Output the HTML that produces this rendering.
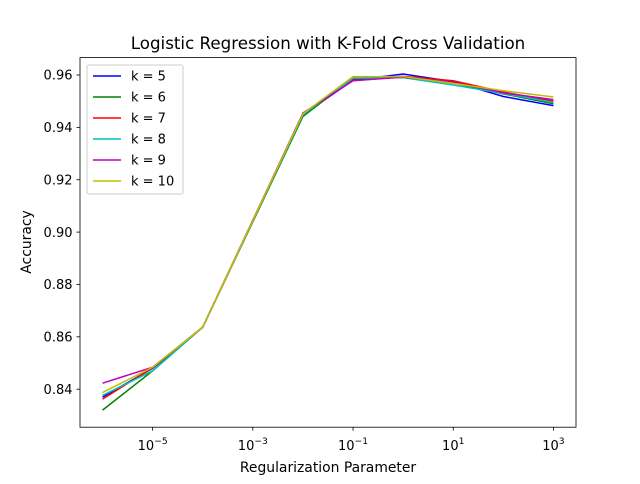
<!DOCTYPE html>
<html><head><meta charset="utf-8"><style>
body{margin:0;background:#fff;font-family:"DejaVu Sans","Liberation Sans",sans-serif}
</style></head><body>
<svg id="chart" width="640" height="480" xmlns="http://www.w3.org/2000/svg" font-family="DejaVu Sans, Liberation Sans, sans-serif">
<rect width="640" height="480" fill="#fff"/>
<text x="328" y="49" text-anchor="middle" font-size="16.7">Logistic Regression with K-Fold Cross Validation</text>
<g id="plot"></g>
<rect x="80" y="57.6" width="496" height="369.6" fill="none" stroke="#000" stroke-width="0.8"/>
<text x="328" y="472" text-anchor="middle" font-size="13.9">Regularization Parameter</text>
<text transform="translate(31,242) rotate(-90)" text-anchor="middle" font-size="13.9">Accuracy</text>
</svg>
<script>
const xExp=[-6,-5,-4,-2,-1,0,1,2,3];
const seriesLabels=["k = 5","k = 6","k = 7","k = 8","k = 9","k = 10"];
const colors=["#0000ff","#008000","#ff0000","#00bfbf","#bf00bf","#bfbf00"];
const k5=[0.8370,0.8480,0.8637,0.9448,0.9580,0.9604,0.9575,0.9518,0.9483];
const k6=[0.8320,0.8470,0.8637,0.9442,0.9588,0.9592,0.9570,0.9528,0.9490];
const k7=[0.8362,0.8482,0.8637,0.9450,0.9585,0.9595,0.9578,0.9535,0.9500];
const k8=[0.8376,0.8470,0.8637,0.9448,0.9588,0.9590,0.9562,0.9530,0.9495];
const k9=[0.8423,0.8484,0.8637,0.9455,0.9578,0.9592,0.9572,0.9532,0.9506];
const k10=[0.8387,0.8484,0.8637,0.9452,0.9594,0.9594,0.9568,0.9540,0.9516];
const series=[k5,k6,k7,k8,k9,k10];
const xTicks=[-5,-3,-1,1,3];
const yTicks=[0.84,0.86,0.88,0.90,0.92,0.94,0.96];
const NS="http://www.w3.org/2000/svg";
const L=80,R=576,T=57.6,B=427.2;
const xmin=-6-0.45,xmax=3+0.45,ymin=0.82548,ymax=0.96665;
const sx=e=>L+(e-xmin)/(xmax-xmin)*(R-L);
const sy=v=>B-(v-ymin)/(ymax-ymin)*(B-T);
const g=document.getElementById('plot');
function mk(t,a){const e=document.createElementNS(NS,t);for(const k in a)e.setAttribute(k,a[k]);g.appendChild(e);return e;}
xTicks.forEach(e=>{
 const x=sx(e);
 const t=mk('line',{x1:x,x2:x,y1:B,y2:B+3.5,stroke:'#000','stroke-width':0.8});
 
 
 const tx=mk('text',{x:x,y:B+23,'text-anchor':'middle','font-size':13});
 
 
 tx.innerHTML='10<tspan dy="-6" font-size="9.2">'+(e<0?'\u2212':'')+Math.abs(e)+'</tspan>';
});
yTicks.forEach(v=>{
 const y=sy(v);
 const t=mk('line',{x1:L-3.5,x2:L,y1:y,y2:y,stroke:'#000','stroke-width':0.8});
 
 
 const tx=mk('text',{x:L-7.5,y:y+4.7,'text-anchor':'end','font-size':13});
 
 
 tx.textContent=v.toFixed(2);
});
series.forEach((s,i)=>{
 const p=mk('polyline',{points:s.map((v,j)=>sx(xExp[j])+','+sy(v)).join(' '),fill:'none',stroke:colors[i],'stroke-width':1.5});
 
 
});
const lg=mk('rect',{x:87,y:65,width:96,height:129,fill:'#fff',stroke:'#ccc',rx:2});


seriesLabels.forEach((lab,i)=>{
 const y=76+i*21;
 const l=mk('line',{x1:93,x2:121,y1:y,y2:y,stroke:colors[i],'stroke-width':1.5});
 
 
 const t=mk('text',{x:131,y:y+4.7,'font-size':13});
 
 
 t.textContent=lab;
});
</script>
</body></html>
